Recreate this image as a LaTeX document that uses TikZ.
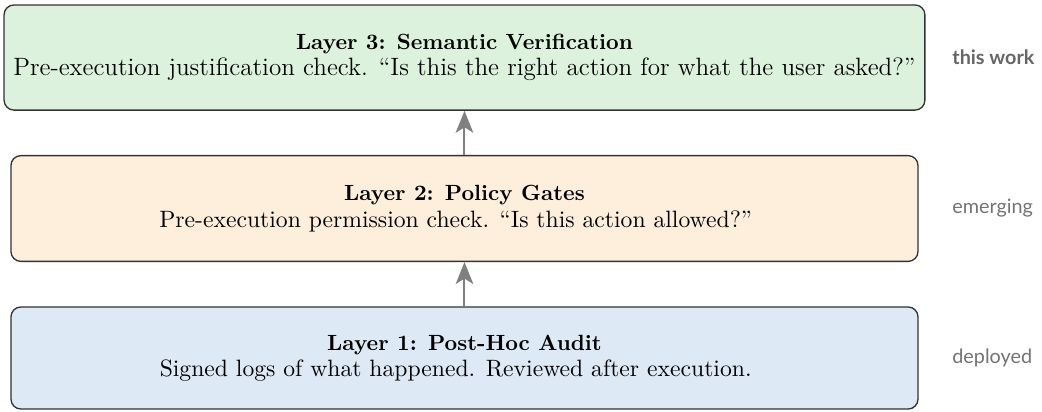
\documentclass[tikz,border=0pt]{standalone}
\usepackage{fontspec}
\newfontfamily\tagfont{Lato}
\usetikzlibrary{arrows.meta}
\definecolor{auditfill}{RGB}{221,233,245}
\definecolor{policyfill}{RGB}{254,239,220}
\definecolor{semfill}{RGB}{220,242,220}
\newcommand{\bodytext}{\fontsize{10.75pt}{11.7pt}\selectfont}
\begin{document}
\begin{tikzpicture}[
  layer/.style={draw=black!80, line width=0.6pt, rounded corners=4.5pt,
    align=center, minimum width=14.49cm, minimum height=1.69cm},
  tag/.style={anchor=west, font=\tagfont\small, text=black!55},
  up/.style={-{Stealth[length=10pt, width=8pt, inset=2.5pt]}, line width=0.9pt, black!50}]
\useasboundingbox (0,0) rectangle (16.646,-6.566);
\node[layer, fill=semfill, minimum width=14.71cm, minimum height=1.68cm] (sem) at (7.42,-0.919)
  {\textbf{Layer 3: Semantic Verification}\\
   {\fontsize{11.4pt}{11.7pt}\selectfont Pre-execution justification check. ``Is this the right action for what the user asked?''}};
\node[layer, fill=policyfill] (pol) at (7.42,-3.331)
  {\textbf{Layer 2: Policy Gates}\\
   {\bodytext Pre-execution permission check. ``Is this action allowed?''\hspace*{8pt}}};
\node[layer, fill=auditfill, minimum height=1.63cm] (aud) at (7.42,-5.719)
  {\textbf{Layer 1: Post-Hoc Audit}\\
   {\bodytext Signed logs of what happened. Reviewed after execution.\hspace*{8pt}}};
\draw[up] (aud) -- (pol);
\draw[up] (pol) -- (sem);
\node[tag, font=\tagfont\small\bfseries, text=black!60] (semtag) at (15.09,-0.919) {this work};
\node[tag] (poltag) at (15.09,-3.331) {emerging};
\node[tag] (audtag) at (15.09,-5.719) {deployed};
\end{tikzpicture}
\end{document}
